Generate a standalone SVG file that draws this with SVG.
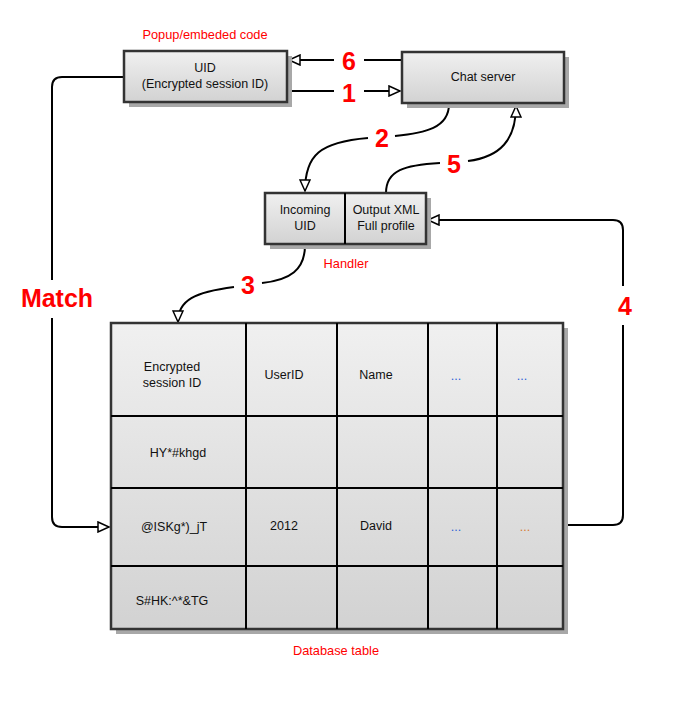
<svg xmlns="http://www.w3.org/2000/svg" width="683" height="701" viewBox="0 0 683 701">
<defs>
<linearGradient id="g" x1="0" y1="0" x2="0" y2="1"><stop offset="0" stop-color="#f0f0f0"/><stop offset="1" stop-color="#d2d2d2"/></linearGradient>
<marker id="ah" markerWidth="14" markerHeight="12" refX="12" refY="6" orient="auto" markerUnits="userSpaceOnUse"><path d="M1,1 L12,6 L1,11 Z" fill="#fff" stroke="#000" stroke-width="1.5"/></marker>
<style>
.box{fill:url(#g);stroke:#333;stroke-width:2.5}
.sh{fill:#a8a8a8}
.t{font-family:"Liberation Sans",Arial,sans-serif;font-size:12.5px;fill:#111;text-anchor:middle}
.r{font-family:"Liberation Sans",Arial,sans-serif;font-size:12.8px;fill:#f00;text-anchor:middle}
.n{font-family:"Liberation Sans",Arial,sans-serif;font-size:25px;font-weight:bold;fill:#f00;text-anchor:middle}
.c{fill:none;stroke:#000;stroke-width:2}
.g{stroke:#000;stroke-width:2}
.b{fill:#2a62d8}
.o{fill:#d87a30}
</style>
</defs>
<rect width="683" height="701" fill="#fff"/>
<g id="connectors">
<path class="c" d="M402,60 H364 M334,60 H289" marker-end="url(#ah)"/>
<path class="c" d="M287,91 H334 M364,91 H400" marker-end="url(#ah)"/>
<path class="c" d="M449,104 C449,128 425,133 395,136 M368,138 C320,142 305,155 305,191" marker-end="url(#ah)"/>
<path class="c" d="M386,193 C386,170 405,165 440,163 M468,161 C500,157 516,140 516,106" marker-end="url(#ah)"/>
<path class="c" d="M305,245 C305,270 290,280 262,283 M234,287 C195,292 178,300 178,322" marker-end="url(#ah)"/>
<path class="c" d="M124,77 H62 Q52,77 52,87 V280 M52,318 V517 Q52,527 62,527 H109" marker-end="url(#ah)"/>
<path class="c" d="M563,525 H613 Q623,525 623,515 V325 M623,286 V230 Q623,220 613,220 H428" marker-end="url(#ah)"/>
</g>
<g id="popup">
<rect class="sh" x="129" y="56" width="163" height="51"/>
<rect class="box" x="124" y="51" width="163" height="51"/>
<text class="t" x="205" y="72">UID</text>
<text class="t" x="205" y="88">(Encrypted session ID)</text>
<text class="r" x="205" y="39">Popup/embeded code</text>
</g>
<g id="chat">
<rect class="sh" x="407" y="57" width="162" height="51"/>
<rect class="box" x="402" y="52" width="162" height="51"/>
<text class="t" x="483" y="81">Chat server</text>
</g>
<g id="handler">
<rect class="sh" x="270" y="198" width="161" height="51"/>
<rect class="box" x="265" y="193" width="161" height="51"/>
<line class="g" x1="345" y1="193" x2="345" y2="244"/>
<text class="t" x="305" y="214">Incoming</text>
<text class="t" x="305" y="230">UID</text>
<text class="t" x="386" y="214">Output XML</text>
<text class="t" x="386" y="230">Full profile</text>
<text class="r" x="346" y="268">Handler</text>
</g>
<g id="table">
<rect class="sh" x="116" y="328" width="452" height="306"/>
<rect class="box" x="111" y="323" width="452" height="306"/>
<g class="g">
<line x1="246" y1="323" x2="246" y2="629"/>
<line x1="337" y1="323" x2="337" y2="629"/>
<line x1="428" y1="323" x2="428" y2="629"/>
<line x1="497" y1="323" x2="497" y2="629"/>
<line x1="111" y1="416" x2="563" y2="416"/>
<line x1="111" y1="488" x2="563" y2="488"/>
<line x1="111" y1="566" x2="563" y2="566"/>
</g>
<text class="t" x="172" y="371">Encrypted</text>
<text class="t" x="172" y="387">session ID</text>
<text class="t" x="284" y="379">UserID</text>
<text class="t" x="376" y="379">Name</text>
<text class="t b" x="456" y="380">...</text>
<text class="t b" x="522" y="380">...</text>
<text class="t" x="178" y="457">HY*#khgd</text>
<text class="t" x="174" y="531">@ISKg*)_jT</text>
<text class="t" x="284" y="530">2012</text>
<text class="t" x="376" y="530">David</text>
<text class="t b" x="456" y="531">...</text>
<text class="t o" x="525" y="531">...</text>
<text class="t" x="172" y="605">S#HK:^*&amp;TG</text>
<text class="r" x="336" y="655">Database table</text>
</g>
<g id="labels">
<text class="n" x="349" y="70">6</text>
<text class="n" x="349" y="102">1</text>
<text class="n" x="382" y="147">2</text>
<text class="n" x="454" y="173">5</text>
<text class="n" x="248" y="294">3</text>
<text class="n" x="625" y="315">4</text>
<text class="n" x="57" y="307" style="font-size:25px">Match</text>
</g>
</svg>
